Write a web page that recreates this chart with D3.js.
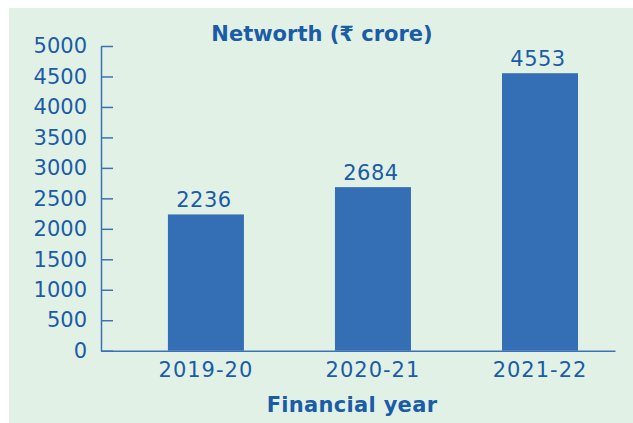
<!DOCTYPE html>
<html lang="en">
<head>
<meta charset="utf-8">
<title>Networth</title>
<script src="https://d3js.org/d3.v7.min.js"></script>
<style>
  body { margin: 0; background: #fff; }
  svg text { font-family: "DejaVu Sans", sans-serif; fill: #1a5ca6; }
</style>
</head>
<body>
<script>
// financial years and networth in crore
var years = ["2019-20", "2020-21", "2021-22"];
var networth = [2236, 2684, 4553];
var yTicks = [0, 500, 1000, 1500, 2000, 2500, 3000, 3500, 4000, 4500, 5000];

var w = 633, h = 423;
var axisColor = "#3a73b5";
var barColor = "#346eb4";

var svg = d3.select("body").append("svg")
  .attr("width", w)
  .attr("height", h);

// pale green panel
svg.append("rect")
  .attr("x", 9).attr("y", 8)
  .attr("width", w - 9).attr("height", h - 8)
  .attr("fill", "#e2f1e6");

var yScale = d3.scaleLinear().domain([0, 5000]).range([350.7, 46]);
var xScale = d3.scaleBand().domain(years).range([101, 615])
  .paddingInner(0.545).paddingOuter(0.311).align(0.644);

var yAxis = d3.axisLeft(yScale)
  .tickValues(yTicks)
  .tickFormat(d3.format("d"))
  .tickSizeInner(-12)
  .tickSizeOuter(0)
  .tickPadding(14);

var xAxis = d3.axisBottom(xScale)
  .tickSize(0)
  .tickPadding(11.5);

// bars
svg.selectAll("rect.bar")
  .data(networth)
  .enter()
  .append("rect")
  .attr("class", "bar")
  .attr("x", function (d, i) { return xScale(years[i]); })
  .attr("y", function (d) { return yScale(d); })
  .attr("width", xScale.bandwidth())
  .attr("height", function (d) { return yScale(0) - yScale(d); })
  .attr("fill", barColor);

// value labels
svg.selectAll("text.val")
  .data(networth)
  .enter()
  .append("text")
  .attr("class", "val")
  .attr("x", function (d, i) { return xScale(years[i]) + xScale.bandwidth() / 2 - 2; })
  .attr("y", function (d) { return yScale(d) - 7; })
  .attr("text-anchor", "middle")
  .style("font-size", "21px")
  .style("letter-spacing", "0.5px")
  .text(function (d) { return d; });

var gy = svg.append("g")
  .attr("transform", "translate(101,0)")
  .call(yAxis);

var gx = svg.append("g")
  .attr("transform", "translate(0," + yScale(0) + ")")
  .call(xAxis);

[gy, gx].forEach(function (g) {
  g.selectAll("path.domain").attr("stroke", axisColor).attr("stroke-width", 1.5);
  g.selectAll(".tick line").attr("stroke", axisColor).attr("stroke-width", 1.5);
  g.selectAll(".tick text")
    .attr("fill", "#1a5ca6")
    .style("font-family", "'DejaVu Sans', sans-serif")
    .style("font-size", "21px");
});
gx.selectAll(".tick text").style("letter-spacing", "1px");

// titles
svg.append("text")
  .attr("x", 322)
  .attr("y", 41)
  .attr("text-anchor", "middle")
  .style("font-size", "21px")
  .style("font-weight", "bold")
  .text("Networth (\u20b9 crore)");

svg.append("text")
  .attr("x", 352)
  .attr("y", 412)
  .attr("text-anchor", "middle")
  .style("font-size", "21px")
  .style("font-weight", "bold")
  .style("letter-spacing", "0.3px")
  .text("Financial year");
</script>
</body>
</html>
